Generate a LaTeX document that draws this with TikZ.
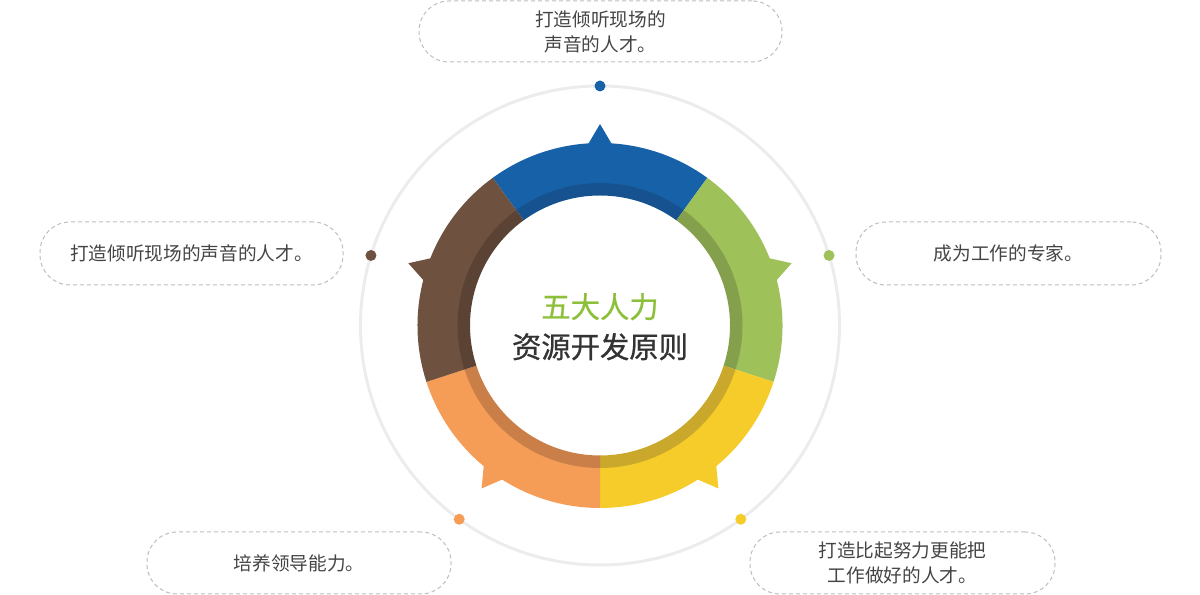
\documentclass[tikz,border=0pt]{standalone}
\usepackage{fontspec}
\newfontfamily\cjk{Noto Sans CJK SC}
\newfontfamily\cjktitle[FakeBold=0.8]{Noto Sans CJK SC}
\usetikzlibrary{calc}
\definecolor{cblue}{HTML}{1761A9}
\definecolor{dblue}{HTML}{15528F}
\definecolor{cgreen}{HTML}{9FC15A}
\definecolor{dgreen}{HTML}{85A04D}
\definecolor{cyellow}{HTML}{F5CC2A}
\definecolor{dyellow}{HTML}{C9A82B}
\definecolor{corange}{HTML}{F59D57}
\definecolor{dorange}{HTML}{C97F47}
\definecolor{cbrown}{HTML}{6E513F}
\definecolor{dbrown}{HTML}{5A4334}
\definecolor{ringgray}{HTML}{ECECEE}
\definecolor{boxgray}{HTML}{BDBDBD}
\definecolor{textgray}{HTML}{444444}
\definecolor{titlegreen}{HTML}{8DC03A}
\definecolor{titledark}{HTML}{333333}
\begin{document}
\begin{tikzpicture}[x=0.75pt,y=0.75pt,
  labelbox/.style={draw=boxgray, dash pattern=on 3pt off 2.25pt, line width=0.75pt,
    rounded corners=22.5pt, inner sep=0pt, align=center,
    font=\cjk\fontsize{14}{18.75}\selectfont, text=textgray},
  dotnode/.style={circle, fill=#1, inner sep=0pt, minimum size=8.25pt},
  titletext/.style={font=\cjktitle\fontsize{22}{30}\selectfont, inner sep=0pt}]
\useasboundingbox (0,0) rectangle (1200,595);
\coordinate (C) at (600,269.5);

% outer gray circle
\draw[ringgray, line width=2.25pt] (C) circle[radius=239.5];

% ring segments
\begin{scope}[shift={(C)}]
\foreach \a/\c/\d [evaluate=\a as \b using \a+72, evaluate=\a as \m using \a+36,
   evaluate=\a as \ml using \a+36-3.9, evaluate=\a as \mr using \a+36+3.9] in
  {54/cblue/dblue, -18/cgreen/dgreen, -90/cyellow/dyellow, -162/corange/dorange, 126/cbrown/dbrown}{
  \fill[\c] (\a:182.5) arc[start angle=\a, end angle=\b, radius=182.5]
     -- (\b:142) arc[start angle=\b, end angle=\a, radius=142] -- cycle;
  \fill[\c] (\ml:181) -- (\m:201.5) -- (\mr:181) -- cycle;
  \fill[\d] (\a:142.5) arc[start angle=\a, end angle=\b, radius=142.5]
     -- (\b:130) arc[start angle=\b, end angle=\a, radius=130] -- cycle;
}
\end{scope}

% dots on the gray circle
\node[dotnode=cblue]   (d1) at ($(C)+(90:239.5)$) {};
\node[dotnode=cgreen]  (d2) at ($(C)+(17:239.5)$) {};
\node[dotnode=cyellow] (d3) at ($(C)+(-54:239.5)$) {};
\node[dotnode=corange] (d4) at ($(C)+(-126:239.5)$) {};
\node[dotnode=cbrown]  (d5) at ($(C)+(163:239.5)$) {};

% label boxes
\node[labelbox, minimum width=272.25pt, minimum height=45.75pt] (b1) at (600.5,563.5)
  {打造倾听现场的\\声音的人才。};
\node[labelbox, minimum width=227.25pt, minimum height=47.25pt] (b5) at (191.5,341.5)
  {打造倾听现场的声音的人才。};
\node[labelbox, minimum width=228.75pt, minimum height=47.25pt] (b2) at (1008.5,341.5)
  {成为工作的专家。};
\node[labelbox, minimum width=228pt, minimum height=46.5pt] (b4) at (299,32)
  {培养领导能力。};
\node[labelbox, minimum width=228.75pt, minimum height=46.5pt] (b3) at (902.5,32)
  {打造比起努力更能把\\工作做好的人才。};

% centre title
\node[titletext, text=titlegreen] (t1) at (600,288.3) {五大人力};
\node[titletext, text=titledark] (t2) at (600,248.3) {资源开发原则};
\end{tikzpicture}
\end{document}
